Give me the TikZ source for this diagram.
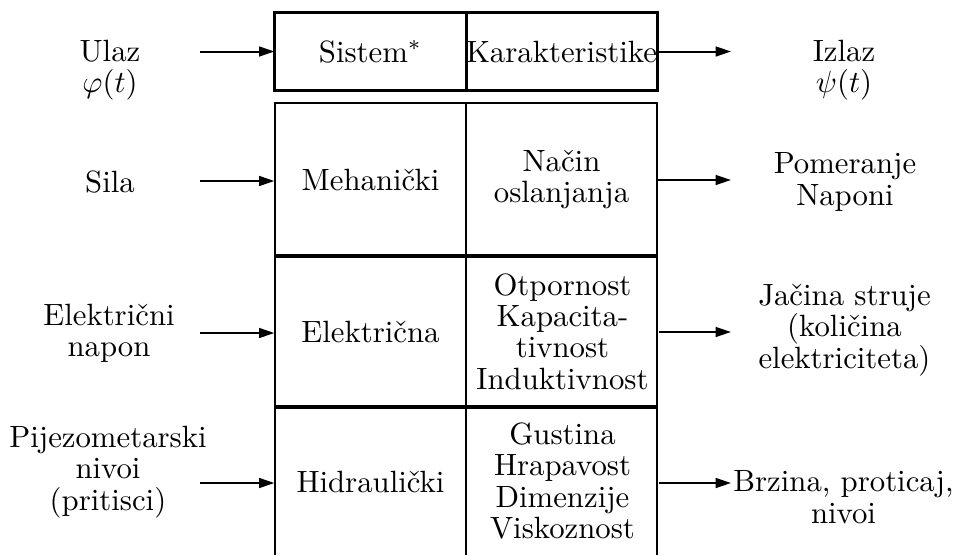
\documentclass[tikz,border=0pt]{standalone}
\usepackage{fontspec}
\usetikzlibrary{arrows.meta}
\begin{document}
\begin{tikzpicture}[x=0.325pt,y=-0.325pt,
  txt/.style={inner sep=0pt, align=center, font=\fontsize{10}{10.2}\selectfont},
  cellsize/.style 2 args={minimum width=#1*0.325pt, minimum height=#2*0.325pt},
  frame/.style={line width=0.8pt},
  rule/.style={line width=1pt},
  flow/.style={line width=0.65pt, -{Triangle[length=5pt,width=3.2pt]}}]
\useasboundingbox (0,0) rectangle (960,555);

% cells of the two tables
\node[txt, cellsize={191}{77}]  (sys) at (370.5,51.5) {Sistem$^*$};
\node[txt, cellsize={191}{77}]  (kar) at (561.5,51.5) {Karakteristike};
\node[txt, cellsize={191}{153}] (meh) at (370.5,179.5) {Mehanički};
\node[txt, cellsize={191}{153}] (nac) at (561.5,179.5) {Način\\oslanjanja};
\node[txt, cellsize={191}{151}] (ele) at (370.5,331.5) {Električna};
\node[txt, cellsize={191}{151}] (otp) at (562.5,331.5) {Otpornost\\Kapacita-\\tivnost\\Induktivnost};
\node[txt, cellsize={191}{148}] (hid) at (370.5,482) {Hidraulički};
\node[txt, cellsize={191}{148}] (gus) at (562.5,481) {Gustina\\Hrapavost\\Dimenzije\\Viskoznost};

% table frames
\draw[frame] (sys.north west) rectangle (kar.south east);
\draw[frame] (sys.north east) -- (sys.south east);
\draw[frame] (275,555) -- (275,103) -- (657,103) -- (657,555);
\draw[frame] (466,103) -- (466,555);
\draw[rule] (275,256) -- (657,256);
\draw[rule] (275,407) -- (657,407);

% inputs and outputs
\node[txt] (ulaz)  at (110,70)    {Ulaz\\$\varphi(t)$};
\node[txt] (izlaz) at (844,70)    {Izlaz\\$\psi(t)$};
\node[txt] (sila)  at (110,182)   {Sila};
\node[txt] (pom)   at (845,182)   {Pomeranje\\Naponi};
\node[txt] (enap)  at (109,333)   {Električni\\napon};
\node[txt] (jac)   at (844.5,330) {Jačina struje\\(količina\\elektriciteta)};
\node[txt] (pij)   at (108,472)   {Pijezometarski\\nivoi\\(pritisci)};
\node[txt] (brz)   at (843.5,497) {Brzina, proticaj,\\nivoi};

% arrow ends
\coordinate (in1) at (200,51.5);
\coordinate (in2) at (200,181);
\coordinate (in3) at (200,333);
\coordinate (in4) at (200,483);
\coordinate (out1) at (731,51.5);
\coordinate (out2) at (731,180);
\coordinate (out3) at (731,332);
\coordinate (out4) at (731,483);

\draw[flow] (in1) -- (in1 -| sys.west);
\draw[flow] (in2) -- (in2 -| meh.west);
\draw[flow] (in3) -- (in3 -| ele.west);
\draw[flow] (in4) -- (in4 -| hid.west);
\draw[flow] (out1 -| kar.east) -- (out1);
\draw[flow] (out2 -| nac.east) -- (out2);
\draw[flow] (out3 -| otp.east) -- (out3);
\draw[flow] (out4 -| gus.east) -- (out4);
\end{tikzpicture}
\end{document}
